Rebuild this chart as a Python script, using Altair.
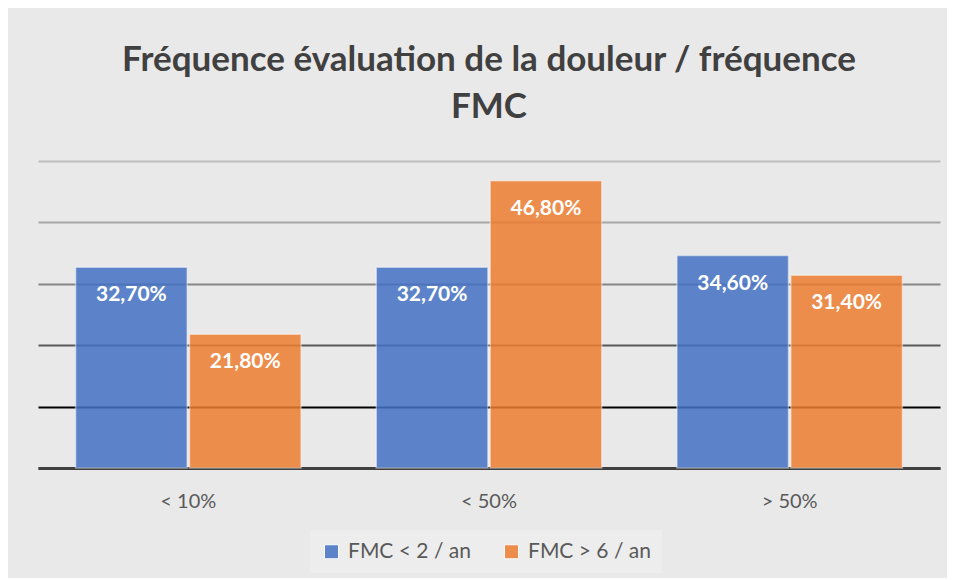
import altair as alt
import pandas as pd

categories = ["< 10%", "< 50%", "> 50%"]
series = ["FMC < 2 / an", "FMC > 6 / an"]
fmc_lt2 = [32.7, 32.7, 34.6]
fmc_gt6 = [21.8, 46.8, 31.4]
grid_values = [0, 10, 20, 30, 40, 50]
title_lines = ["Fréquence évaluation de la douleur / fréquence", "FMC"]

rows = []
for i, c in enumerate(categories):
    for s, vals in zip(series, [fmc_lt2, fmc_gt6]):
        v = vals[i]
        rows.append({"cat": c, "serie": s, "val": v,
                     "label": f"{v:.2f}".replace(".", ",") + "%"})
df = pd.DataFrame(rows)

FONT = "Lato"

grid_color = {
    "condition": [
        {"test": "datum.value === 0", "value": "#404040"},
        {"test": "datum.value === 10", "value": "#000000"},
        {"test": "datum.value === 20", "value": "#595959"},
        {"test": "datum.value === 30", "value": "#858585"},
        {"test": "datum.value === 40", "value": "#a6a6a6"},
    ],
    "value": "#bdbdbd",
}

base = alt.Chart(df).encode(
    x=alt.X("cat:N", sort=categories, title=None,
            scale=alt.Scale(paddingInner=0, paddingOuter=0),
            axis=alt.Axis(labelAngle=0, labelFont=FONT, labelFontSize=20,
                          labelColor="#595959", labelPadding=23, ticks=False,
                          domainColor="#404040", domainWidth=3, grid=False)),
    xOffset=alt.XOffset("serie:N", sort=series,
                        scale=alt.Scale(paddingInner=0.02, paddingOuter=0.33)),
    y=alt.Y("val:Q", title=None,
            scale=alt.Scale(domain=[0, 50], nice=False),
            axis=alt.Axis(values=grid_values, labels=False, ticks=False,
                          domain=False, grid=True, gridColor=grid_color,
                          gridWidth=2)),
)

bars = base.mark_bar(opacity=0.85, stroke="white", strokeOpacity=0.5,
                     strokeWidth=1.5).encode(
    color=alt.Color("serie:N", sort=series,
                    scale=alt.Scale(domain=series, range=["#4472C4", "#ED7D31"]),
                    legend=alt.Legend(orient="none", legendX=272, legendY=369,
                                      direction="horizontal",
                                      title=None, symbolType="square",
                                      symbolSize=196, symbolOpacity=0.85,
                                      symbolStrokeColor="white",
                                      symbolStrokeWidth=1,
                                      labelFont=FONT, labelFontSize=21,
                                      labelColor="#595959", fillColor="#ededed",
                                      padding=11, columnPadding=30,
                                      labelOffset=6, labelLimit=300))
)

text = base.mark_text(baseline="middle", dy=28, color="white", font=FONT,
                      fontWeight="bold", fontSize=21).encode(text="label:N")

chart = (bars + text).properties(
    width=902, height=307,
    title=alt.Title(title_lines, font=FONT, fontSize=35, fontWeight="bold",
                    color="#404040", lineHeight=47, offset=36, anchor="middle"),
    padding={"left": 30, "top": 35, "right": 7, "bottom": 5},
    background="#e9e9e9",
).configure_view(stroke=None)

chart.save("out.html", embed_options={"renderer": "svg", "actions": False})
